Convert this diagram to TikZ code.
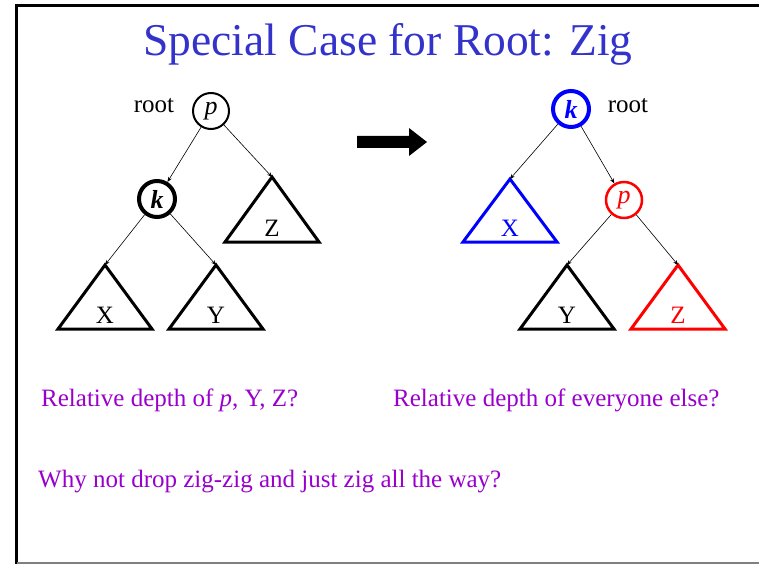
\documentclass[tikz,border=0pt]{standalone}
\usepackage{fontspec}
\setmainfont{Liberation Serif}
\usetikzlibrary{arrows.meta}
\definecolor{titleblue}{RGB}{51,51,204}
\definecolor{askpurple}{RGB}{153,0,204}

\begin{document}
\begin{tikzpicture}[
  x=1pt, y=-1pt,
  every node/.style={font=\fontsize{25}{29}\selectfont, inner sep=0pt},
  key/.style={draw, circle, minimum size=36pt, line width=2pt, font=\fontsize{26}{29}\selectfont},
  subtree/.style={line width=3pt, line join=miter},
  link/.style={-{Stealth[length=5pt,width=4pt]}, line width=0.6pt},
  ask/.style={text=askpurple, anchor=base west}
]
\useasboundingbox (0,0) rectangle (759,564);

% frame of the slide
\draw[line width=3pt] (16,564) -- (16,6) -- (759,6);
\draw[line width=1.5pt, gray] (17,563) -- (759,563);

\node[text=titleblue, anchor=base, font=\fontsize{45.5}{50}\selectfont] (title) at (388,56) {Special Case for Root: Zig};

% before the rotation
\node[key] (lp) at (211,111) {\textit{p}};
\node[anchor=base] (lroot) at (154,113) {root};
\node[key, line width=4pt] (lk) at (157,199) {\textbf{\textit{k}}};
\coordinate (lz) at (272,177);
\coordinate (lx) at (105,265);
\coordinate (ly) at (216,265);
\draw[subtree] (lz) -- ++(-47,65) -- ++(94,0) -- cycle;
\draw[subtree] (lx) -- ++(-47,64) -- ++(94,0) -- cycle;
\draw[subtree] (ly) -- ++(-47,64) -- ++(94,0) -- cycle;
\node[anchor=base] (lzl) at (272,236) {Z};
\node[anchor=base] (lxl) at (105,323) {X};
\node[anchor=base] (lyl) at (216,323) {Y};
\draw[link] (lp) -- (lk);
\draw[link] (lp) -- (lz);
\draw[link] (lk) -- (lx);
\draw[link] (lk) -- (ly);

% the zig
\fill (357,136) -- (409,136) -- (409,128) -- (427,142) -- (409,156) -- (409,148) -- (357,148) -- cycle;

% after the rotation
\node[key, line width=4pt, blue] (rk) at (571,109) {\textbf{\textit{k}}};
\node[anchor=base] (rroot) at (628,113) {root};
\node[key, line width=2.5pt, red] (rp) at (624,200) {\textit{p}};
\coordinate (rx) at (510,179);
\coordinate (ry) at (567,265);
\coordinate (rz) at (678,265);
\draw[subtree, blue] (rx) -- ++(-47,63) -- ++(94,0) -- cycle;
\draw[subtree] (ry) -- ++(-47,64) -- ++(94,0) -- cycle;
\draw[subtree, red] (rz) -- ++(-47,64) -- ++(94,0) -- cycle;
\node[anchor=base, text=blue] (rxl) at (510,236) {X};
\node[anchor=base] (ryl) at (567,323) {Y};
\node[anchor=base, text=red] (rzl) at (678,323) {Z};
\draw[link] (rk) -- (rx);
\draw[link] (rk) -- (rp);
\draw[link] (rp) -- (ry);
\draw[link] (rp) -- (rz);

% questions
\node[ask] (q1) at (41,406) {Relative depth of \textit{p}, Y, Z?};
\node[ask] (q2) at (393,406) {Relative depth of everyone else?};
\node[ask] (q3) at (38,487) {Why not drop zig-zig and just zig all the way?};
\end{tikzpicture}
\end{document}
